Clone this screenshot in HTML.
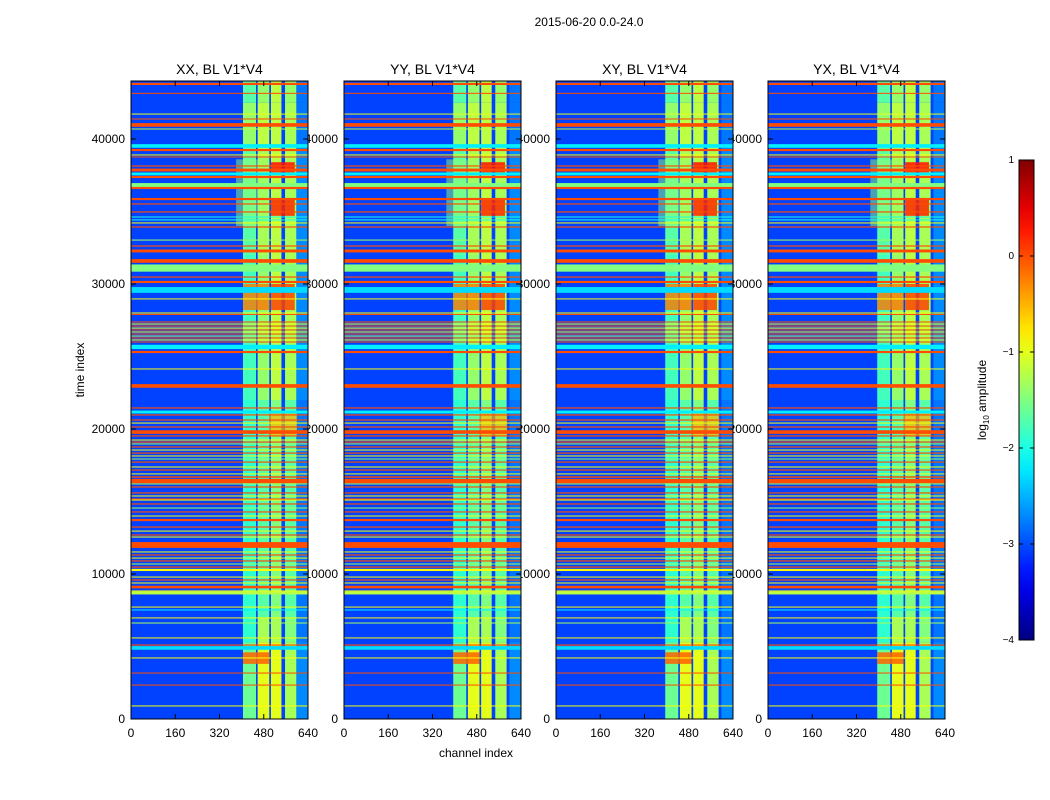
<!DOCTYPE html>
<html><head><meta charset="utf-8">
<style>
html,body{margin:0;padding:0;background:#fff;}
svg{display:block;font-family:"Liberation Sans","DejaVu Sans",sans-serif;}
</style></head>
<body>
<svg id="fig" width="1050" height="800" viewBox="0 0 1050 800">
<rect x="0" y="0" width="1050" height="800" fill="#fff"/>
<text x="589" y="26" font-size="12" text-anchor="middle">2015-06-20 0.0-24.0</text>
<g id="labels"></g>
<g id="panels"></g>
<g id="cbar"></g>
<text x="136" y="438" font-size="12" text-anchor="middle" transform="rotate(-90 76 430)">time index</text>
<text x="476" y="757" font-size="12" text-anchor="middle">channel index</text>
</svg>
<script>
// ---- data ----
const panelTitles = ["XX, BL V1*V4","YY, BL V1*V4","XY, BL V1*V4","YX, BL V1*V4"];
const xTicks = [0,160,320,480,640];
const yTicks = [0,10000,20000,30000,40000];
const cbTicks = [1,0,-1,-2,-3,-4];
const bgLevel = -3.05;
// channel band columns [ch0, ch1]
const bandCols = [[405,452],[458,500],[506,544],[557,598]];
const rightEdge = [598,640];
// time segments
const segT0 = [0,5300,7000,22000,32000,39500,42500];
const segT1 = [5300,7000,22000,32000,39500,42500,44000];
const segL1 = [-1.6,-1.9,-1.9,-1.8,-1.7,-1.4,-1.7];
const segL2 = [-1.0,-1.3,-1.7,-1.4,-1.3,-1.2,-1.4];
const segL3 = [-1.0,-1.3,-1.5,-1.2,-1.2,-1.2,-1.2];
const segL4 = [-1.3,-1.5,-1.7,-1.3,-1.3,-1.3,-1.4];
const segR  = [-2.7,-2.8,-2.8,-2.7,-2.7,-2.8,-2.8];
// blobs [t0,t1,ch0,ch1,level]
const blobT0 = [34000,37700,34700,28200,28200,3800,19500];
const blobT1 = [38600,38400,35800,30000,30000,4600,21200];
const blobC0 = [380,506,506,405,506,405,500];
const blobC1 = [500,592,592,500,592,500,600];
const blobL  = [-1.4,0.3,0.2,-0.2,0.05,-0.1,-0.5];
const blobO  = [0.5,0.85,0.85,0.8,0.85,0.85,0.7];
// horizontal rows [time, thickness, level]
const rowT = [43800,43150,41720,41380,40970,40690,39520,39240,38900,38760,38140,37860,37590,37380,36760,36620,35860,35520,34970,34620,34420,34210,33930,33030,32620,32280,31590,31100,30480,30140,29590,28970,28000,27900,
27380,27240,27100,26960,26830,26690,26550,26410,26280,26140,26000,25660,25310,24140,22970,
21450,21170,20970,20620,20410,20140,19790,19520,19240,19100,18970,18760,18550,18340,18140,17930,17720,17380,17170,16900,16690,16410,16210,16000,15590,15380,15170,15100,14830,14550,14280,14000,13720,13240,12960,12690,12550,12000,11520,11310,11100,10900,10690,10480,10280,9790,9590,9380,9100,8830,8690,7720,7520,6970,6620,5590,5100,4900,4210,3170,2340,900];
const rowH = [150,70,60,70,250,60,250,150,60,60,80,200,200,150,400,150,150,80,80,60,60,60,80,60,80,200,250,500,80,150,400,60,60,60,
70,60,70,60,70,60,70,60,70,60,70,300,150,60,250,
80,200,80,80,60,80,250,80,60,80,60,80,60,80,60,60,80,60,80,60,100,300,60,80,80,60,80,60,80,60,80,60,150,80,60,80,60,400,60,80,60,80,60,80,150,60,80,60,180,60,200,60,60,60,60,60,80,250,60,60,60,60];
const rowL = [0.0,0.0,-1.0,0.0,0.0,-1.2,-2.2,0.0,-0.9,0.0,0.0,0.0,-2.2,0.0,-1.5,0.0,0.0,0.0,0.0,-2.0,-2.0,-0.9,0.0,-1.3,0.0,0.0,0.0,-1.5,0.0,0.0,-2.3,-0.9,-0.9,0.0,
0.0,-0.9,0.0,-0.9,0.0,-0.9,0.0,-1.3,0.0,-0.9,0.0,-2.2,0.0,-0.9,0.0,
0.0,-2.2,0.0,0.0,-0.9,0.0,0.0,0.0,-0.9,0.0,-1.3,0.0,-0.9,0.0,-0.9,-1.3,0.0,-0.9,0.0,-0.9,0.0,0.0,-1.3,0.0,0.0,-0.9,0.0,-0.9,0.0,-1.3,0.0,-0.9,0.0,0.0,-0.9,0.0,-0.9,0.0,-0.9,0.0,-0.9,0.0,-1.3,0.0,-0.9,-0.9,0.0,-0.9,0.0,-0.9,-1.2,-0.9,-2.2,-0.9,-1.3,-0.9,0.0,-2.3,-0.9,0.0,0.0,-0.9];

// ---- helpers ----
const NS="http://www.w3.org/2000/svg";
function jet(l){
  let v=(l+4)/5; v=Math.max(0,Math.min(1,v));
  const f=(x)=>Math.max(0,Math.min(1,x));
  const r=f(1.5-Math.abs(4*v-3)), g=f(1.5-Math.abs(4*v-2)), b=f(1.5-Math.abs(4*v-1));
  return `rgb(${Math.round(r*255)},${Math.round(g*255)},${Math.round(b*255)})`;
}
function mk(tag,attrs,parent){const e=document.createElementNS(NS,tag);for(const k in attrs)e.setAttribute(k,attrs[k]);parent.appendChild(e);return e;}
const panelX=[131,344,556,768], PW=177, PT=81, PB=719, TMAX=44000, CMAX=640;
function ys(t){return PB-t*(PB-139)/40000;}
const labels=document.getElementById('labels'), panels=document.getElementById('panels');

panelX.forEach((x0,pi)=>{
  const xs=c=>x0+c*PW/CMAX;
  yTicks.forEach(t=>{
    const tx=mk('text',{x:x0-6,y:ys(t)+4,'font-size':12,'text-anchor':'end'},labels);
    
    
    tx.textContent=t;
  });
  xTicks.forEach(c=>{
    const tx=mk('text',{x:xs(c),y:737,'font-size':12,'text-anchor':'middle'},labels);
    
    
    tx.textContent=c;
  });
  const g=mk('g',{},panels);
  
  
  const bg=mk('rect',{x:x0,y:PT,width:PW,height:PB-PT,fill:jet(bgLevel)},g);
  
  
  const off = pi===0?0:-10;
  segT0.forEach((t0,i)=>{
    const t1=segT1[i], levels=[segL1[i],segL2[i],segL3[i],segL4[i]];
    bandCols.forEach((bc,j)=>{
      const r=mk('rect',{x:xs(bc[0]+off),y:ys(Math.min(t1,TMAX)),width:xs(bc[1])-xs(bc[0]),height:ys(t0)-ys(Math.min(t1,TMAX)),fill:jet(levels[j])},g);
      
      
    });
    const r=mk('rect',{x:xs(rightEdge[0]),y:ys(Math.min(t1,TMAX)),width:xs(rightEdge[1])-xs(rightEdge[0]),height:ys(t0)-ys(Math.min(t1,TMAX)),fill:jet(segR[i])},g);
    
    
  });
  blobT0.forEach((t0,i)=>{
    const r=mk('rect',{x:xs(blobC0[i]+off),y:ys(blobT1[i]),width:xs(blobC1[i])-xs(blobC0[i]),height:ys(t0)-ys(blobT1[i]),fill:jet(blobL[i]),opacity:blobO[i]},g);
    
    
  });
  rowT.forEach((t,i)=>{
    const h=Math.max(1,ys(0)-ys(rowH[i]));
    const r=mk('rect',{x:x0,y:ys(t)-h/2,width:PW,height:h,fill:jet(rowL[i])},g);
    
    
  });
  xTicks.forEach(c=>{
    mk('line',{x1:xs(c),x2:xs(c),y1:PB,y2:PB-5,stroke:'#000'},g);
    mk('line',{x1:xs(c),x2:xs(c),y1:PT,y2:PT+5,stroke:'#000'},g);
  });
  yTicks.forEach(t=>{
    mk('line',{x1:x0,x2:x0+5,y1:ys(t),y2:ys(t),stroke:'#000'},g);
    mk('line',{x1:x0+PW,x2:x0+PW-5,y1:ys(t),y2:ys(t),stroke:'#000'},g);
  });
  const fr=mk('rect',{x:x0,y:PT,width:PW,height:PB-PT,fill:'none',stroke:'#000','stroke-width':1},g);
  
  
  const tt=mk('text',{x:x0+PW/2,y:74,'font-size':14,'text-anchor':'middle'},g);
  
  
  tt.textContent=panelTitles[pi];
});

// colorbar
const cb=document.getElementById('cbar');
const CX=1019,CW=15,CT=160,CB=640;
const defs=mk('defs',{},cb);
const lg=mk('linearGradient',{id:'jetg',x1:0,y1:1,x2:0,y2:0},defs);
for(let i=0;i<=20;i++){mk('stop',{offset:i/20,'stop-color':jet(-4+5*i/20)},lg);}
const cr=mk('rect',{x:CX,y:CT,width:CW,height:CB-CT,fill:'url(#jetg)',stroke:'#000'},cb);


cbTicks.forEach(v=>{
  const y=CB-(v+4)/5*(CB-CT);
  mk('line',{x1:CX,x2:CX+4,y1:y,y2:y,stroke:'#000'},cb);
  mk('line',{x1:CX+CW,x2:CX+CW-4,y1:y,y2:y,stroke:'#000'},cb);
  const t=mk('text',{x:CX-5,y:y+3,'font-size':10,'text-anchor':'end'},cb);
  
  
  t.textContent=v<0?'\u2212'+(-v):v;
});
const cl=mk('text',{x:0,y:0,'font-size':12,'text-anchor':'middle',transform:'translate(986 400) rotate(-90)'},cb);


cl.innerHTML='log<tspan font-size="8" dy="3">10</tspan><tspan dy="-3"> amplitude</tspan>';
</script>
</body></html>
